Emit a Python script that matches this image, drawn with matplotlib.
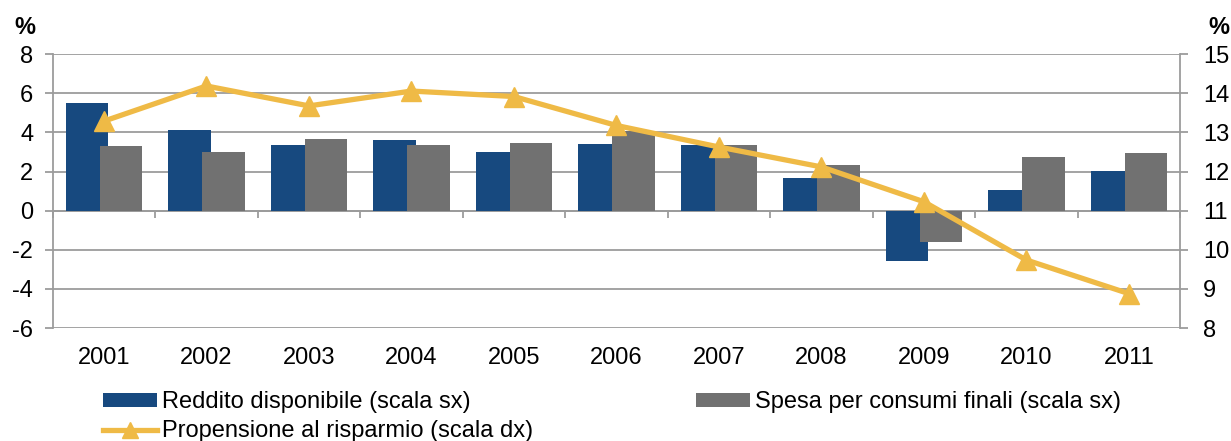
import matplotlib.pyplot as plt
import numpy as np

plt.rcParams['font.family'] = ['Liberation Sans', 'DejaVu Sans']
plt.rcParams['axes.unicode_minus'] = False

years = ["2001", "2002", "2003", "2004", "2005", "2006",
         "2007", "2008", "2009", "2010", "2011"]
reddito = [5.51, 4.14, 3.34, 3.63, 3.02, 3.41, 3.34, 1.67, -2.56, 1.07, 2.05]
spesa = [3.32, 2.98, 3.68, 3.38, 3.46, 4.06, 3.36, 2.32, -1.62, 2.73, 2.95]
propensione = [13.29, 14.19, 13.68, 14.06, 13.92, 13.18, 12.63, 12.12,
               11.23, 9.74, 8.88]

BLUE = "#17497f"
GRAY = "#717171"
YELLOW = "#efba46"
GRID = "#9c9c9c"
FS = 17

fig = plt.figure(figsize=(12.31, 4.41), dpi=100)
ax = fig.add_axes([0.0428, 0.2562, 0.9158, 0.6207])

x = np.arange(len(years))
w = 0.415
b1 = ax.bar(x - 0.166, reddito, width=w, color=BLUE, zorder=2,
            label="Reddito disponibile (scala sx)")
b2 = ax.bar(x + 0.166, spesa, width=w, color=GRAY, zorder=3,
            label="Spesa per consumi finali (scala sx)")

ymin, ymax = -6, 8
ax.set_ylim(ymin, ymax)
ax.set_xlim(-0.5, len(years) - 0.5)
ax.set_yticks(range(-6, 10, 2))
ax.set_axisbelow(True)
ax.yaxis.grid(True, color=GRID, linewidth=1.3)
ax.tick_params(axis='y', length=6, width=1.3, color=GRID, labelsize=FS, pad=8)
ax.set_xticks(x)
ax.set_xticklabels(years)
ax.tick_params(axis='x', length=0, labelsize=FS, pad=14)
for s in ["top", "bottom", "right"]:
    ax.spines[s].set_visible(False)
ax.spines["left"].set_color(GRID)
ax.spines["left"].set_linewidth(1.3)

# zero line with category separators
zero_ax = ax.secondary_xaxis((0 - ymin) / (ymax - ymin))
zero_ax.xaxis.set_ticks_position('bottom')
zero_ax.set_xticks(np.arange(-0.5, len(years) + 0.5, 1.0))
zero_ax.set_xticklabels([])
zero_ax.tick_params(axis='x', direction='out', length=5, width=1.3,
                    color=GRID, labelbottom=False, labeltop=False)
zero_ax.spines["bottom"].set_color(GRID)
zero_ax.spines["bottom"].set_linewidth(1.3)

ax2 = ax.twinx()
ax2.set_ylim(8, 15)
ax2.set_yticks(range(8, 16))
ln, = ax2.plot(x, propensione, color=YELLOW, linewidth=3.8, marker="^",
               markersize=15, label="Propensione al risparmio (scala dx)")
ax2.tick_params(axis='y', length=6, width=1.3, color=GRID, labelsize=FS, pad=10.5)
for s in ["top", "bottom", "left"]:
    ax2.spines[s].set_visible(False)
ax2.spines["right"].set_color(GRID)
ax2.spines["right"].set_linewidth(1.3)

fig.text(0.012, 0.938, "%", fontsize=FS, fontweight="bold", va="center")
fig.text(0.982, 0.938, "%", fontsize=FS, fontweight="bold", va="center")

fig.legend(handles=[b1, ln, b2], loc="upper left",
           bbox_to_anchor=(0.0835, 0.113), ncol=2, frameon=False,
           fontsize=FS, handlelength=2.3, handleheight=0.55,
           handletextpad=0.2, labelspacing=0.3, columnspacing=6.9,
           markerscale=0.75, borderpad=0, borderaxespad=0)

fig.savefig("out.png", dpi=100)
